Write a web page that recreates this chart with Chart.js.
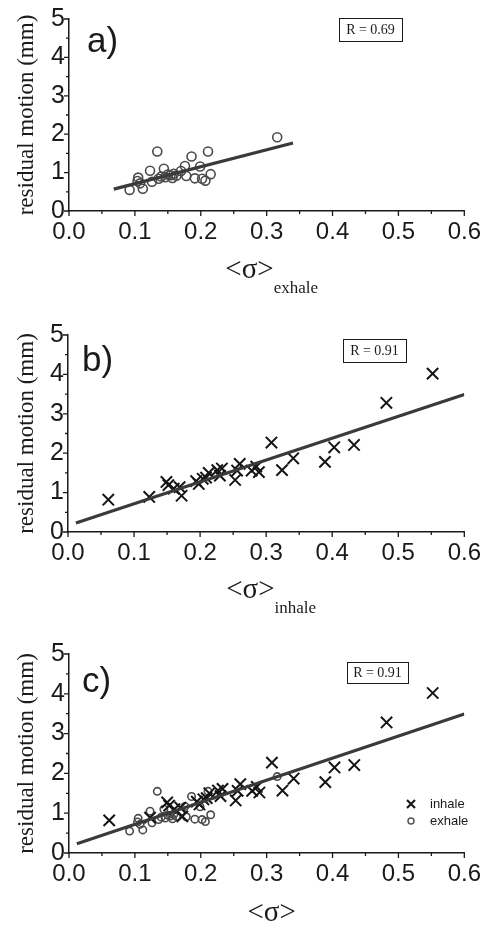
<!DOCTYPE html>
<html>
<head>
<meta charset="utf-8">
<script src="https://cdn.jsdelivr.net/npm/chart.js@4.4.1/dist/chart.umd.min.js"></script>
<style>
  body { margin: 0; background: #fff; }
  #wrap { position: relative; width: 488px; height: 928px; }
  canvas { position: absolute; left: 0; }
</style>
</head>
<body>
<div id="wrap">
  <canvas id="chartA" width="488" height="300" style="top:0px"></canvas>
  <canvas id="chartB" width="488" height="320" style="top:300px"></canvas>
  <canvas id="chartC" width="488" height="308" style="top:620px"></canvas>
</div>
<script>
// exhale points: <sigma>_exhale vs residual motion (mm)
const exhaleX = [0.092, 0.105, 0.104, 0.108, 0.112, 0.123, 0.126, 0.134, 0.136, 0.140,
                 0.144, 0.146, 0.150, 0.154, 0.157, 0.159, 0.163, 0.170, 0.176, 0.178,
                 0.186, 0.191, 0.199, 0.202, 0.207, 0.211, 0.215, 0.316]
const exhaleY = [0.55, 0.87, 0.78, 0.72, 0.58, 1.05, 0.76, 1.55, 0.84, 0.90,
                 1.10, 0.88, 0.95, 0.93, 0.86, 0.97, 0.92, 1.04, 1.17, 0.91,
                 1.42, 0.85, 1.16, 0.84, 0.79, 1.55, 0.96, 1.92]

// inhale points: <sigma>_inhale vs residual motion (mm)
const inhaleX = [0.061, 0.123, 0.149, 0.152, 0.160, 0.169, 0.172, 0.194, 0.198, 0.204,
                 0.209, 0.213, 0.226, 0.230, 0.233, 0.253, 0.256, 0.260, 0.278, 0.285,
                 0.289, 0.308, 0.324, 0.341, 0.389, 0.403, 0.433, 0.482, 0.552]
const inhaleY = [0.82, 0.89, 1.27, 1.19, 1.10, 1.14, 0.92, 1.29, 1.22, 1.35,
                 1.38, 1.50, 1.57, 1.43, 1.61, 1.32, 1.56, 1.73, 1.56, 1.66,
                 1.52, 2.27, 1.57, 1.87, 1.78, 2.15, 2.21, 3.28, 4.02]

// fitted lines (end points)
const fitExhaleX = [0.068, 0.340]
const fitExhaleY = [0.57, 1.77]
const fitAllX = [0.012, 0.600]
const fitAllY = [0.23, 3.49]

const xTicks = [0, 0.1, 0.2, 0.3, 0.4, 0.5, 0.6]
const yTicks = [0, 1, 2, 3, 4, 5]

const rExhale = 'R = 0.69'
const rInhale = 'R = 0.91'
const rAll = 'R = 0.91'

const toPoints = (xs, ys) => xs.map((x, i) => ({ x: x, y: ys[i] }))

const SANS = '"Liberation Sans", Arial, sans-serif'
const SERIF = '"Liberation Serif", "Times New Roman", serif'
const INK = '#1a1a1a'

// extra drawing: minor ticks, panel letter, R box, axis title with subscript, legend
const decor = {
  id: 'decor',
  afterDraw(chart, args, o) {
    const ctx = chart.ctx
    const xs = chart.scales.x
    const ys = chart.scales.y
    const area = chart.chartArea
    ctx.save()
    ctx.strokeStyle = INK
    ctx.lineWidth = 1.3
    // ticks (outside), major + minor
    ctx.beginPath()
    for (let i = 0; i <= 12; i++) {
      const px = xs.getPixelForValue(i * 0.05)
      const len = i % 2 === 0 ? 5 : 3
      ctx.moveTo(px, area.bottom)
      ctx.lineTo(px, area.bottom + len)
    }
    for (let i = 0; i <= 10; i++) {
      const py = ys.getPixelForValue(i * 0.5)
      const len = i % 2 === 0 ? 5 : 3
      ctx.moveTo(area.left, py)
      ctx.lineTo(area.left - len, py)
    }
    ctx.stroke()

    // panel letter
    ctx.fillStyle = INK
    ctx.font = '35px ' + SANS
    ctx.textAlign = 'left'
    ctx.textBaseline = 'alphabetic'
    ctx.fillText(o.letter, o.letterX, o.letterY)

    // R box
    const b = o.rBox
    ctx.lineWidth = 1
    ctx.strokeRect(b[0] + 0.5, b[1] + 0.5, b[2], b[3])
    ctx.font = '14px ' + SERIF
    ctx.textAlign = 'center'
    ctx.textBaseline = 'middle'
    ctx.fillText(o.rText, b[0] + b[2] / 2, b[1] + b[3] / 2 + 1)

    // x axis title  <σ> with subscript
    ctx.textAlign = 'left'
    ctx.textBaseline = 'alphabetic'
    ctx.font = '29px ' + SERIF
    const main = '<σ>'
    const wMain = ctx.measureText(main).width
    ctx.font = '17px ' + SERIF
    const wSub = o.sub ? ctx.measureText(o.sub).width : 0
    const cx = (area.left + area.right) / 2 + 5
    const x0 = cx - (wMain + wSub) / 2
    ctx.font = '29px ' + SERIF
    ctx.fillText(main, x0, o.titleY)
    if (o.sub) {
      ctx.font = '17px ' + SERIF
      ctx.fillText(o.sub, x0 + wMain, o.subY)
    }

    // legend
    if (o.legend) {
      const lg = o.legend
      ctx.font = '13px ' + SANS
      ctx.textBaseline = 'middle'
      ctx.lineWidth = 2.2
      ctx.beginPath()
      ctx.moveTo(lg.x - 4, lg.y1 - 4); ctx.lineTo(lg.x + 4, lg.y1 + 4)
      ctx.moveTo(lg.x + 4, lg.y1 - 4); ctx.lineTo(lg.x - 4, lg.y1 + 4)
      ctx.stroke()
      ctx.lineWidth = 1.5
      ctx.strokeStyle = '#555'
      ctx.beginPath()
      ctx.arc(lg.x, lg.y2, 3, 0, Math.PI * 2)
      ctx.stroke()
      ctx.fillText('inhale', lg.x + 19, lg.y1)
      ctx.fillText('exhale', lg.x + 19, lg.y2)
    }
    ctx.restore()
  }
}

function makeChart(id, datasets, frame, decorOpts) {
  new Chart(document.getElementById(id), {
    type: 'scatter',
    data: { datasets: datasets },
    options: {
      responsive: false,
      animation: false,
      layout: { padding: { top: frame.top, right: frame.right, bottom: 0, left: 0 } },
      plugins: { legend: { display: false }, tooltip: { enabled: false }, decor: decorOpts },
      scales: {
        x: {
          type: 'linear', min: 0, max: 0.6,
          afterBuildTicks: s => { s.ticks = xTicks.map(v => ({ value: v })) },
          afterFit: s => { s.height = frame.bottom },
          grid: { display: false, drawTicks: false },
          border: { display: true, color: INK, width: 1.5 },
          ticks: { padding: 7, color: INK, font: { family: SANS, size: 24 }, maxRotation: 0,
                   callback: v => v.toFixed(1) }
        },
        y: {
          type: 'linear', min: 0, max: 5,
          afterBuildTicks: s => { s.ticks = yTicks.map(v => ({ value: v })) },
          afterFit: s => { s.width = frame.left },
          grid: { display: false, drawTicks: false },
          border: { display: true, color: INK, width: 1.5 },
          ticks: { padding: 4, color: INK, font: { family: SANS, size: 25 } },
          title: { display: true, text: 'residual motion (mm)', color: INK,
                   font: { family: SERIF, size: 23 }, padding: { top: 13, bottom: 0 } }
        }
      }
    },
    plugins: [decor]
  })
}

const exhaleSet = r => ({
  data: toPoints(exhaleX, exhaleY), pointStyle: 'circle', pointRadius: r,
  backgroundColor: 'rgba(255,255,255,0)', borderColor: '#4a4a4a', borderWidth: 1.6, order: 2
})
const inhaleSet = () => ({
  data: toPoints(inhaleX, inhaleY), pointStyle: 'crossRot', pointRadius: 8,
  borderColor: '#151515', borderWidth: 2, order: 1
})
const fitSet = (xs, ys) => ({
  type: 'line', data: toPoints(xs, ys), showLine: true, pointRadius: 0,
  borderColor: '#3a3a3a', borderWidth: 3.2, order: 0
})

makeChart('chartA', [exhaleSet(4.5), fitSet(fitExhaleX, fitExhaleY)],
  { top: 17, right: 18, bottom: 89, left: 69 },
  { letter: 'a)', letterX: 87, letterY: 52, rBox: [339, 18, 63, 23], rText: rExhale,
    sub: 'exhale', titleY: 278, subY: 293 })

makeChart('chartB', [inhaleSet(), fitSet(fitAllX, fitAllY)],
  { top: 35, right: 17, bottom: 88, left: 68 },
  { letter: 'b)', letterX: 82, letterY: 71, rBox: [343, 39, 63, 23], rText: rInhale,
    sub: 'inhale', titleY: 298, subY: 313 })

makeChart('chartC', [inhaleSet(), exhaleSet(3.7), fitSet(fitAllX, fitAllY)],
  { top: 34, right: 19, bottom: 75, left: 69 },
  { letter: 'c)', letterX: 82, letterY: 72, rBox: [347, 42, 61, 21], rText: rAll,
    sub: '', titleY: 301, legend: { x: 411, y1: 184, y2: 201 } })
</script>
</body>
</html>
